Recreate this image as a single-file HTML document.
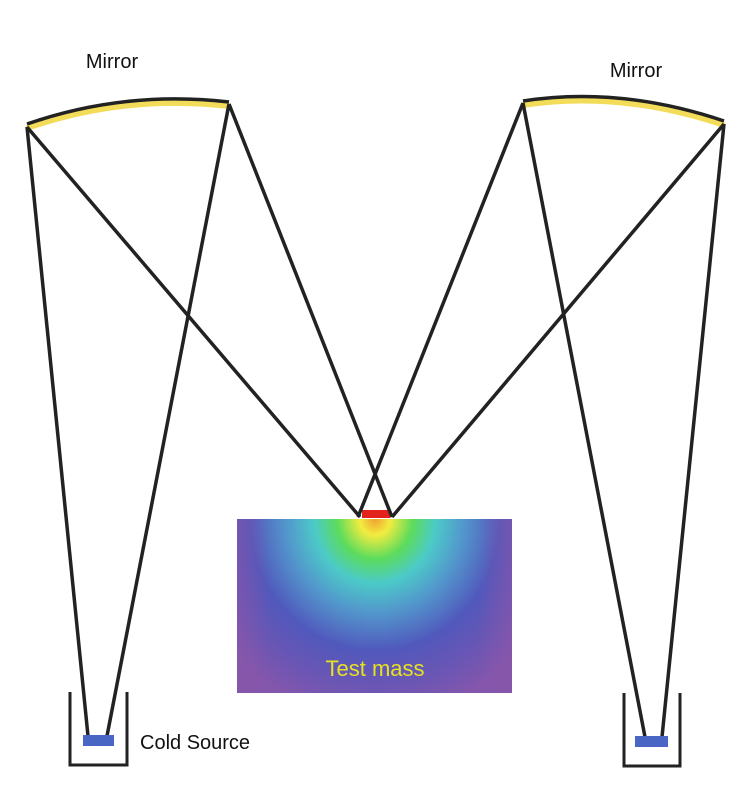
<!DOCTYPE html>
<html><head><meta charset="utf-8"><style>
html,body{margin:0;padding:0;background:#fff;}
svg{display:block;}
text{font-family:"Liberation Sans","DejaVu Sans",sans-serif;}
</style></head><body>
<svg width="744" height="789" viewBox="0 0 744 789">
<defs>
<radialGradient id="heat" cx="375" cy="519" r="200" gradientUnits="userSpaceOnUse" gradientTransform="translate(375 519) scale(0.95 1) translate(-375 -519)">
<stop offset="0" stop-color="#f0a030"/>
<stop offset="0.08" stop-color="#f2ec40"/>
<stop offset="0.2" stop-color="#5cdc5c"/>
<stop offset="0.32" stop-color="#4ccac8"/>
<stop offset="0.47" stop-color="#5296cc"/>
<stop offset="0.66" stop-color="#5158bc"/>
<stop offset="0.85" stop-color="#6c56b4"/>
<stop offset="1" stop-color="#8456ac"/>
</radialGradient>
<linearGradient id="edge" x1="0" x2="1" y1="0" y2="0">
<stop offset="0" stop-color="#8a55a8" stop-opacity="0.5"/>
<stop offset="0.12" stop-color="#8a55a8" stop-opacity="0"/>
<stop offset="0.88" stop-color="#8a55a8" stop-opacity="0"/>
<stop offset="1" stop-color="#8a55a8" stop-opacity="0.5"/>
</linearGradient>
</defs>
<g>
<path d="M27,128 Q125,94 229,106" stroke="#f2dc5a" stroke-width="6" fill="none"/>
<path d="M27,124 Q125,90 229,102" stroke="#222" stroke-width="3.5" fill="none"/>
</g>
<g>
<path d="M523,105 Q620,90 724,125" stroke="#f2dc5a" stroke-width="6" fill="none"/>
<path d="M523,101 Q620,86 724,121" stroke="#222" stroke-width="3.5" fill="none"/>
</g>
<text x="112" y="68" font-size="20" text-anchor="middle" fill="#111">Mirror</text>
<text x="636" y="77" font-size="20" text-anchor="middle" fill="#111">Mirror</text>
<rect x="237" y="519" width="275" height="174" fill="url(#heat)"/>
<rect x="237" y="519" width="275" height="174" fill="url(#edge)"/>
<rect x="362" y="510" width="28" height="8" fill="#e4221c"/>
<g stroke="#222" stroke-width="3.5" fill="none">
<line x1="27" y1="127" x2="88" y2="736"/>
<line x1="229" y1="104" x2="107" y2="736"/>
<line x1="27" y1="127" x2="360" y2="517"/>
<line x1="229" y1="104" x2="392" y2="517"/>
<line x1="523" y1="103" x2="358" y2="517"/>
<line x1="724" y1="124" x2="392" y2="517"/>
<line x1="523" y1="103" x2="645" y2="737"/>
<line x1="724" y1="124" x2="662" y2="737"/>
</g>
<g>
<path d="M70,692 V765 H127 V692" stroke="#222" stroke-width="3" fill="none"/>
<rect x="83" y="735" width="31" height="11" fill="#4a66c4"/>
</g>
<g>
<path d="M624,693 V766 H680 V693" stroke="#222" stroke-width="3" fill="none"/>
<rect x="635" y="736" width="33" height="11" fill="#4a66c4"/>
</g>
<text x="140" y="749" font-size="20" fill="#111">Cold Source</text>
<text x="375" y="676" font-size="22" text-anchor="middle" fill="#e8e020">Test mass</text>
</svg>
</body></html>
